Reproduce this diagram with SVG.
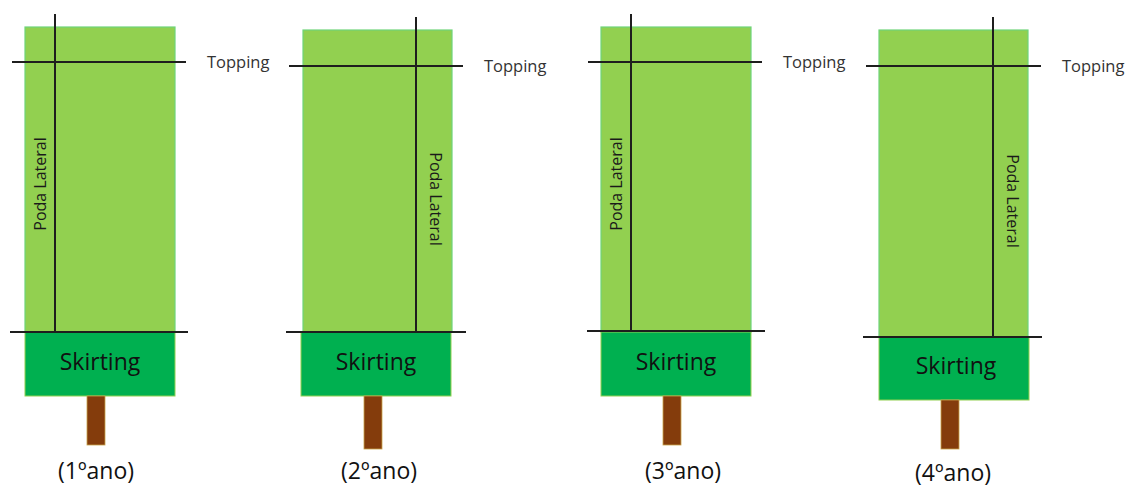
<svg xmlns="http://www.w3.org/2000/svg" width="1127" height="487" viewBox="0 0 1127 487">
<style>
.crown{fill:#92D050;stroke:#6fd47a;stroke-width:1.2}
.skirt{fill:#00B050;stroke:#92D050;stroke-width:1}
.trunk{fill:#843C0C;stroke:#c9a24a;stroke-width:0.8}
.cut{stroke:#1e1e1e;stroke-width:2;fill:none}
.lbl{font-family:"Open Sans","Liberation Sans",sans-serif;fill:#111}
.top{font-family:"Open Sans","Liberation Sans",sans-serif;font-size:16.5px;fill:#333}
.poda{font-family:"Open Sans","Liberation Sans",sans-serif;font-size:16px;fill:#1a1a1a;text-anchor:middle}
.sk{font-size:23px;text-anchor:middle}
.yr{font-size:23px;text-anchor:middle}
</style>
<g id="tree1">
<rect class="crown" x="25" y="27" width="150" height="305"/>
<rect class="skirt" x="25" y="332" width="150" height="64"/>
<rect class="trunk" x="87" y="396" width="18" height="49"/>
<text class="lbl sk" x="100" y="370">Skirting</text>
<text class="top" x="207" y="68">Topping</text>
<text class="poda" transform="translate(46,184) rotate(-90)">Poda Lateral</text>
<text class="lbl yr" x="96" y="479">(1ºano)</text>
</g>
<g id="tree2">
<rect class="crown" x="303" y="30" width="149" height="302"/>
<rect class="skirt" x="301" y="332" width="150" height="64"/>
<rect class="trunk" x="364" y="396" width="18" height="53"/>
<text class="lbl sk" x="376" y="370">Skirting</text>
<text class="top" x="484" y="72">Topping</text>
<text class="poda" transform="translate(430,199) rotate(90)">Poda Lateral</text>
<text class="lbl yr" x="379" y="479">(2ºano)</text>
</g>
<g id="tree3">
<rect class="crown" x="601" y="27" width="150" height="305"/>
<rect class="skirt" x="601" y="332" width="150" height="64"/>
<rect class="trunk" x="663" y="396" width="18" height="49"/>
<text class="lbl sk" x="676" y="370">Skirting</text>
<text class="top" x="783" y="68">Topping</text>
<text class="poda" transform="translate(622,184) rotate(-90)">Poda Lateral</text>
<text class="lbl yr" x="683" y="479">(3ºano)</text>
</g>
<g id="tree4">
<rect class="crown" x="879" y="30" width="149" height="307"/>
<rect class="skirt" x="879" y="337" width="150" height="63"/>
<rect class="trunk" x="941" y="400" width="18" height="49"/>
<text class="lbl sk" x="956" y="374">Skirting</text>
<text class="top" x="1062" y="72">Topping</text>
<text class="poda" transform="translate(1007,201) rotate(90)">Poda Lateral</text>
<text class="lbl yr" x="953" y="481">(4ºano)</text>
</g>
<g id="connectors">
<line class="cut" x1="55" y1="14" x2="55" y2="332"/>
<line class="cut" x1="12" y1="62" x2="186" y2="62"/>
<line class="cut" x1="10" y1="332" x2="188" y2="332"/>
<line class="cut" x1="416" y1="17" x2="416" y2="332"/>
<line class="cut" x1="289" y1="66" x2="463" y2="66"/>
<line class="cut" x1="286" y1="332" x2="466" y2="332"/>
<line class="cut" x1="631" y1="14" x2="631" y2="332"/>
<line class="cut" x1="588" y1="62" x2="762" y2="62"/>
<line class="cut" x1="587" y1="331" x2="765" y2="331"/>
<line class="cut" x1="993" y1="17" x2="993" y2="337"/>
<line class="cut" x1="866" y1="66" x2="1041" y2="66"/>
<line class="cut" x1="863" y1="337" x2="1042" y2="337"/>
</g>
</svg>
